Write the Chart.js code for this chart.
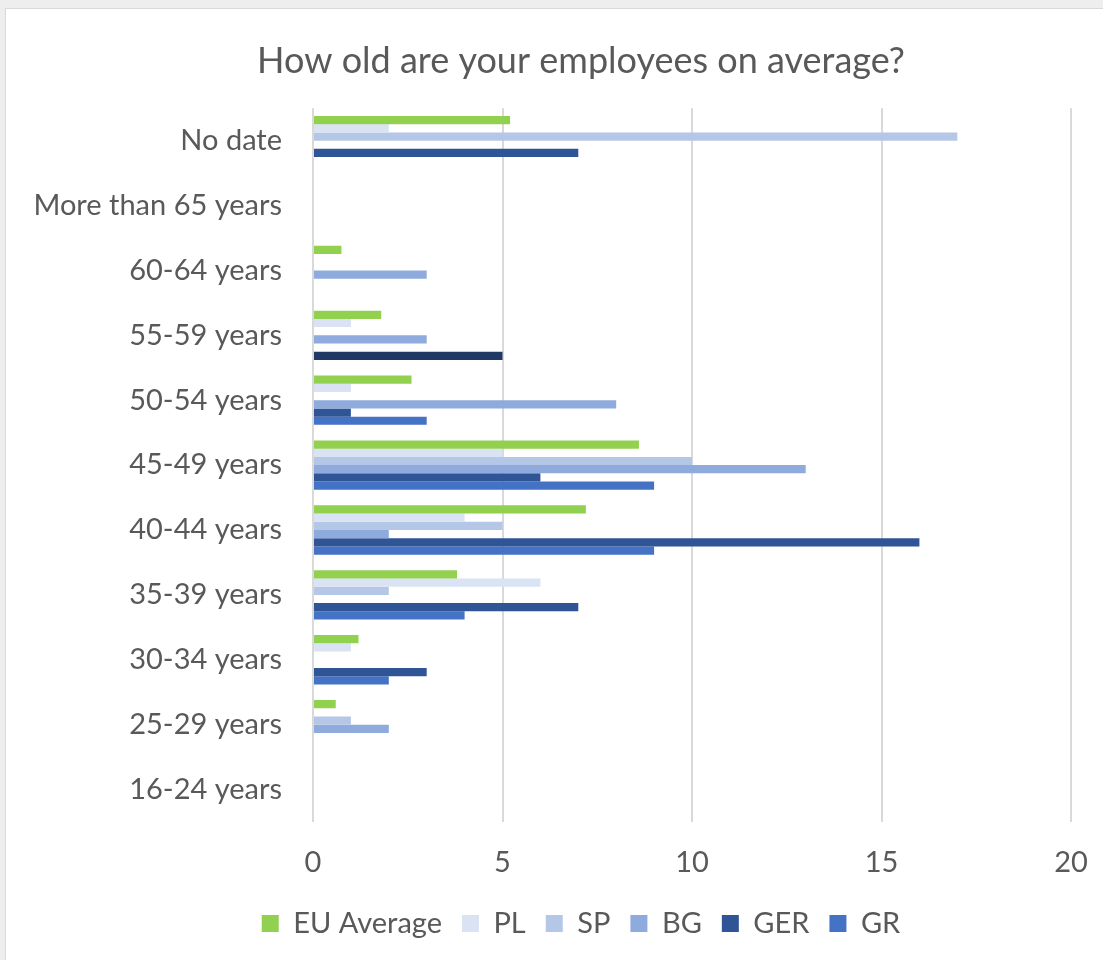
<!DOCTYPE html>
<html>
<head>
<meta charset="utf-8">
<script src="https://cdn.jsdelivr.net/npm/chart.js@4"></script>
<style>
    html, body { margin: 0; padding: 0; overflow: hidden; background: #eeeeee; }
    #wrap {
        position: absolute; left: 5px; top: 8px;
        width: 1152px; height: 952px;
        background: #ffffff;
        border-left: 1px solid #d9d9d9; border-top: 1px solid #d9d9d9;
    }
</style>
</head>
<body>
<div id="wrap"><canvas id="ageChart"></canvas></div>
<script>
// Age groups, top to bottom as in the chart
const ageGroups = ['No date', 'More than 65 years', '60-64 years', '55-59 years', '50-54 years',
    '45-49 years', '40-44 years', '35-39 years', '30-34 years', '25-29 years', '16-24 years'];

const euAverage = [5.2, 0, 0.75, 1.8, 2.6, 8.6, 7.2, 3.8, 1.2, 0.6, 0];
const plValues  = [2, 0, 0, 1, 1, 5, 4, 6, 1, 0, 0];
const spValues  = [17, 0, 0, 0, 0, 10, 5, 2, 0, 1, 0];
const bgValues  = [0, 0, 3, 3, 8, 13, 2, 0, 0, 2, 0];
const gerValues = [7, 0, 0, 0, 1, 6, 16, 7, 3, 0, 0];
const grValues  = [0, 0, 0, 5, 3, 9, 9, 4, 2, 0, 0];

const xTicks = [0, 5, 10, 15, 20];

const textColor = '#595959';
const fontFamily = 'Lato, "Open Sans", sans-serif';

document.addEventListener('DOMContentLoaded', function() {
    const canvas = document.getElementById('ageChart');
    canvas.width = 1152;
    canvas.height = 952;

    new Chart(canvas, {
        type: 'bar',
        data: {
            labels: ageGroups,
            datasets: [
                { label: 'EU Average', data: euAverage, backgroundColor: '#92D050' },
                { label: 'PL', data: plValues, backgroundColor: '#DAE3F3' },
                { label: 'SP', data: spValues, backgroundColor: '#B4C7E7' },
                { label: 'BG', data: bgValues, backgroundColor: '#8FAADC' },
                { label: 'GER', data: gerValues, backgroundColor: '#2F5597' },
                {
                    label: 'GR',
                    data: grValues,
                    // the 55-59 bar is drawn darker in the original
                    backgroundColor: (c) => (c.dataIndex === 3 ? '#203864' : '#4472C4')
                }
            ]
        },
        options: {
            indexAxis: 'y',
            responsive: false,
            animation: false,
            categoryPercentage: 0.76,
            barPercentage: 1.0,
            layout: {
                padding: { left: 0, right: 2, top: 0, bottom: 13 }
            },
            plugins: {
                title: {
                    display: true,
                    text: 'How old are your employees on average?',
                    color: textColor,
                    font: { family: fontFamily, size: 36, weight: 'normal' },
                    padding: { top: 31, bottom: 25 }
                },
                legend: {
                    display: true,
                    position: 'bottom',
                    labels: {
                        color: textColor,
                        font: { family: fontFamily, size: 29 },
                        boxWidth: 17,
                        boxHeight: 17,
                        padding: 20
                    }
                },
                tooltip: { enabled: false }
            },
            scales: {
                x: {
                    min: 0,
                    max: 20,
                    afterBuildTicks: (scale) => {
                        scale.ticks = xTicks.map(v => ({ value: v }));
                    },
                    afterFit: (scale) => { scale.height = 67; },
                    grid: {
                        color: '#D9D9D9',
                        lineWidth: 2,
                        drawTicks: false
                    },
                    border: { display: false },
                    ticks: {
                        color: textColor,
                        font: { family: fontFamily, size: 29 },
                        padding: 23
                    }
                },
                y: {
                    grid: { display: false },
                    border: { display: false },
                    afterFit: (scale) => { scale.width = 307; },
                    ticks: {
                        color: textColor,
                        font: { family: fontFamily, size: 29 },
                        padding: 23
                    }
                },
                // empty space on the right, the plot sits left of centre in the original
                spacer: {
                    type: 'linear',
                    position: 'right',
                    grid: { display: false },
                    border: { display: false },
                    ticks: { display: false },
                    afterFit: (scale) => { scale.width = 85; }
                }
            }
        }
    });
});
</script>
</body>
</html>
